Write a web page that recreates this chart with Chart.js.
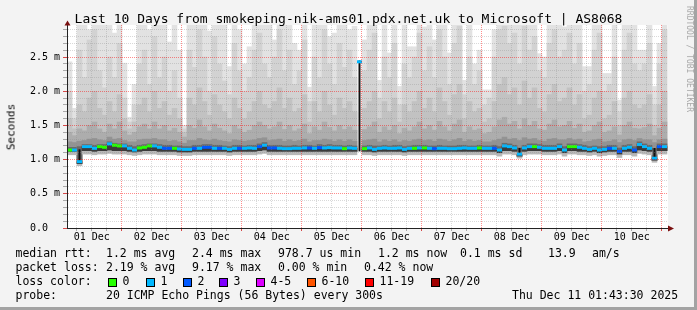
<!DOCTYPE html>
<html>
<head>
<meta charset="utf-8">
<script src="https://cdn.jsdelivr.net/npm/chart.js"></script>
<style>
  html, body { margin:0; padding:0; }
  body { width:697px; height:310px; position:relative; overflow:hidden; background:#f3f3f3; font-family:"DejaVu Sans Mono", monospace; }
  #c { position:absolute; left:0; top:0; }
  .t { position:absolute; white-space:pre; color:#000; font-size:11.5px; line-height:11.5px; }
  .box { position:absolute; width:7px; height:7px; border:1px solid #000; top:278px; }
</style>
</head>
<body>
<canvas id="c" width="697" height="310"></canvas>
<div style="position:absolute;left:694px;top:0;width:3px;height:310px;background:#a3a3a3"></div>
<div style="position:absolute;left:0;top:307px;width:697px;height:3px;background:#a3a3a3"></div>

<div class="t" style="left:0;width:697px;text-align:center;top:12px;font-size:13px;line-height:13px;">Last 10 Days from smokeping-nik-ams01.pdx.net.uk to Microsoft | AS8068</div>
<div class="t" style="left:11px;top:127px;font-size:11px;line-height:11px;transform:translate(-50%,-50%) rotate(-90deg);">Seconds</div>
<div class="t" style="left:688.5px;top:58.5px;font-size:8px;line-height:8px;color:#a9a9a9;transform:translate(-50%,-50%) rotate(90deg);">RRDTOOL / TOBI OETIKER</div>

<div class="t" style="left:15.5px;top:248px">median rtt:</div>
<div class="t" style="left:106px;top:248px">1.2 ms avg</div>
<div class="t" style="left:192px;top:248px">2.4 ms max</div>
<div class="t" style="left:278px;top:248px">978.7 us min</div>
<div class="t" style="left:378px;top:248px">1.2 ms now</div>
<div class="t" style="left:460px;top:248px">0.1 ms sd</div>
<div class="t" style="left:548px;top:248px">13.9</div>
<div class="t" style="left:592px;top:248px">am/s</div>

<div class="t" style="left:15.5px;top:262px">packet loss:</div>
<div class="t" style="left:106px;top:262px">2.19 % avg</div>
<div class="t" style="left:192px;top:262px">9.17 % max</div>
<div class="t" style="left:278px;top:262px">0.00 % min</div>
<div class="t" style="left:364px;top:262px">0.42 % now</div>

<div class="t" style="left:15.5px;top:276px">loss color:</div>
<div id="lossLegend"></div>

<div class="t" style="left:15.5px;top:290px">probe:</div>
<div class="t" style="left:106px;top:290px">20 ICMP Echo Pings (56 Bytes) every 300s</div>
<div class="t" style="left:512px;top:290px">Thu Dec 11 01:43:30 2025</div>

<script>
// ---------------- data (values in milliseconds) ----------------
const dayLabels = ['01 Dec','02 Dec','03 Dec','04 Dec','05 Dec','06 Dec','07 Dec','08 Dec','09 Dec','10 Dec'];
const yTickLabels = ['0.0','0.5 m','1.0 m','1.5 m','2.0 m','2.5 m'];
const lossLegendLabels = ['0','1','2','3','4-5','6-10','11-19','20/20'];
const lossLegendCounts = [0,1,2,3,4,6,11,20];

// median rtt per 2-hour column
const median = [
 1.14,1.14,0.97,1.19,1.19,1.165,1.19,1.18,1.23,1.21,
 1.20,1.20,1.165,1.14,1.17,1.18,1.20,1.20,1.18,1.165,
 1.165,1.165,1.155,1.15,1.15,1.165,1.165,1.18,1.18,1.165,
 1.165,1.165,1.15,1.165,1.165,1.165,1.17,1.165,1.19,1.21,
 1.17,1.17,1.165,1.16,1.16,1.165,1.165,1.17,1.17,1.165,
 1.175,1.17,1.175,1.17,1.17,1.16,1.17,1.165,2.43,1.16,
 1.17,1.15,1.165,1.17,1.165,1.165,1.17,1.15,1.165,1.165,
 1.17,1.17,1.165,1.16,1.165,1.165,1.16,1.16,1.165,1.17,
 1.165,1.165,1.17,1.165,1.165,1.165,1.14,1.20,1.19,1.17,
 1.08,1.17,1.19,1.19,1.18,1.165,1.165,1.165,1.19,1.14,
 1.19,1.19,1.18,1.165,1.15,1.165,1.14,1.15,1.165,1.165,
 1.12,1.165,1.18,1.14,1.22,1.19,1.165,1.02,1.19,1.19
];
// lost pings (of 20) per column
const loss = [
 0,1,1,1,1,1,0,0,1,0,
 0,1,1,1,0,0,0,1,1,2,
 2,0,1,1,1,2,1,2,2,1,
 2,1,1,1,2,1,1,1,2,1,
 2,2,1,1,1,1,1,1,2,1,
 2,1,1,1,1,0,1,1,1,0,
 1,1,1,1,1,1,1,1,1,0,
 1,0,1,2,1,1,1,1,1,1,
 1,1,0,1,1,2,1,1,1,1,
 1,1,1,0,1,1,1,1,1,1,
 0,0,1,1,1,1,1,1,2,1,
 2,1,1,2,1,1,1,1,2,1
];
// smoke layer tops (lightest to darkest)
const smokeTop1 = [
 2.43,1.75,3,3,2.9,3,3,3,3,2.85,
 3,2.41,1.62,2.1,3,3,2.9,3,3,3,
 2.72,3,2.6,1.5,3,3,3,3,2.88,3,
 3,3,2.36,3,2.9,2.4,2.65,3,3,3,
 3,2.75,3,3,3,2.7,2.6,3,2.06,3,
 3,3,2.8,2.85,3,3,2.9,2.95,null,2.75,
 3,3,2.16,3,2.56,3,2.07,3,2.65,2.65,
 3,2.94,3,2.75,3,3,2.56,3,3,2.16,
 3,2.4,2.6,2.02,2.02,2.9,3,3,3,3,
 3,3,3,3,2.55,2.5,3,3,3,2.94,
 3,3,3,2.36,2.36,3,3,2.26,2.26,3,
 1.87,3,3,3,2.6,2.6,3,2.07,2.7,3
];
const smokeTop2 = [
 2.0,1.6,2.6,2.2,2.75,2.9,2.3,2.05,2.5,2.2,
 2.7,1.9,1.55,1.8,2.4,2.6,2.1,2.8,2.2,2.5,
 2.0,2.3,1.9,1.45,2.6,2.35,2.9,2.5,2.0,2.8,
 2.4,2.15,1.95,2.7,2.3,2.0,2.2,2.6,2.85,2.4,
 2.2,2.5,2.9,2.3,2.6,2.1,2.3,2.75,1.85,2.5,
 2.2,2.9,2.4,2.1,2.7,2.35,2.6,2.2,null,2.3,
 2.6,2.85,1.9,2.5,2.2,2.7,1.8,2.4,2.2,2.5,
 2.85,2.3,2.65,2.2,2.9,2.5,2.1,2.7,2.95,1.95,
 2.5,2.1,2.3,1.8,1.9,2.5,2.9,2.95,2.7,2.85,
 2.4,2.95,2.6,2.8,2.3,2.2,2.7,2.9,2.5,2.6,
 2.85,2.4,2.7,2.0,2.1,2.6,2.85,2.0,2.1,2.5,
 1.7,2.6,2.85,2.4,2.3,2.4,2.7,1.8,2.4,2.9
];
const smokeTop3 = [
 1.6,1.45,1.8,1.7,1.9,2.0,1.75,1.65,1.85,1.7,
 1.95,1.6,1.45,1.55,1.8,1.9,1.7,2.0,1.75,1.85,
 1.65,1.75,1.6,1.4,1.9,1.8,2.05,1.85,1.65,1.95,
 1.8,1.7,1.6,1.9,1.75,1.6,1.7,1.85,2.0,1.8,
 1.75,1.85,2.05,1.75,1.9,1.7,1.75,1.95,1.55,1.85,
 1.7,2.0,1.8,1.65,1.9,1.75,1.85,1.7,null,1.75,
 1.85,2.0,1.6,1.85,1.7,1.9,1.55,1.8,1.7,1.85,
 2.0,1.75,1.9,1.7,2.05,1.85,1.65,1.95,2.1,1.6,
 1.85,1.7,1.75,1.55,1.6,1.85,2.1,2.2,1.95,2.05,
 1.8,2.15,1.9,2.05,1.75,1.7,1.95,2.1,1.85,1.9,
 2.05,1.8,1.95,1.6,1.65,1.9,2.0,1.6,1.65,1.85,
 1.5,1.9,2.0,1.8,1.75,1.8,1.95,1.5,1.8,2.0
];
const smokeTop4 = [
 1.40,1.35,1.45,1.42,1.50,1.55,1.45,1.40,1.52,1.45,
 1.55,1.42,1.36,1.40,1.48,1.52,1.45,1.55,1.45,1.50,
 1.42,1.46,1.40,1.33,1.50,1.46,1.58,1.48,1.42,1.52,
 1.46,1.42,1.38,1.50,1.45,1.40,1.43,1.50,1.55,1.50,
 1.45,1.48,1.55,1.44,1.50,1.42,1.45,1.52,1.38,1.48,
 1.43,1.55,1.47,1.42,1.50,1.44,1.48,1.43,null,1.44,
 1.48,1.55,1.40,1.48,1.43,1.50,1.38,1.46,1.42,1.48,
 1.55,1.45,1.50,1.43,1.56,1.48,1.42,1.52,1.58,1.40,
 1.48,1.43,1.45,1.38,1.40,1.48,1.58,1.62,1.52,1.56,
 1.45,1.60,1.50,1.56,1.45,1.43,1.52,1.58,1.48,1.50,
 1.56,1.46,1.52,1.40,1.42,1.50,1.55,1.40,1.42,1.48,
 1.36,1.50,1.55,1.46,1.45,1.47,1.52,1.35,1.46,1.55
];
const smokeTop5 = [
 1.26,1.25,1.27,1.28,1.30,1.31,1.29,1.28,1.33,1.30,
 1.31,1.28,1.26,1.26,1.29,1.30,1.30,1.31,1.29,1.29,
 1.27,1.28,1.26,1.24,1.28,1.28,1.31,1.29,1.28,1.30,
 1.28,1.27,1.26,1.29,1.28,1.27,1.28,1.29,1.31,1.32,
 1.28,1.29,1.30,1.27,1.29,1.27,1.28,1.30,1.26,1.28,
 1.28,1.30,1.29,1.27,1.29,1.27,1.29,1.27,null,1.28,
 1.29,1.30,1.26,1.29,1.27,1.29,1.26,1.28,1.27,1.29,
 1.30,1.28,1.29,1.27,1.30,1.29,1.27,1.29,1.31,1.27,
 1.29,1.27,1.28,1.26,1.26,1.28,1.30,1.33,1.30,1.31,
 1.28,1.32,1.30,1.31,1.28,1.27,1.30,1.31,1.29,1.29,
 1.31,1.29,1.30,1.26,1.27,1.29,1.30,1.26,1.27,1.29,
 1.25,1.29,1.30,1.28,1.31,1.29,1.29,1.25,1.29,1.30
];
const smokeTop6 = [
 1.18,1.18,1.19,1.22,1.22,1.21,1.22,1.22,1.26,1.24,
 1.23,1.23,1.21,1.19,1.21,1.22,1.23,1.23,1.22,1.21,
 1.21,1.20,1.20,1.19,1.19,1.21,1.21,1.22,1.22,1.21,
 1.21,1.20,1.19,1.21,1.21,1.20,1.21,1.21,1.23,1.25,
 1.21,1.21,1.21,1.20,1.20,1.21,1.20,1.21,1.21,1.20,
 1.22,1.21,1.22,1.21,1.21,1.20,1.21,1.20,null,1.20,
 1.21,1.20,1.20,1.21,1.20,1.21,1.21,1.19,1.20,1.21,
 1.21,1.21,1.20,1.20,1.21,1.20,1.20,1.20,1.21,1.21,
 1.20,1.20,1.21,1.20,1.20,1.21,1.19,1.24,1.23,1.21,
 1.17,1.21,1.23,1.23,1.22,1.21,1.21,1.21,1.23,1.19,
 1.23,1.23,1.22,1.21,1.19,1.20,1.19,1.19,1.21,1.21,
 1.17,1.21,1.22,1.19,1.26,1.23,1.21,1.16,1.23,1.23
];
// lower edge of the smoke (dark part, then light part)
const smokeLowDark = [
 1.12,1.12,0.94,1.13,1.13,1.12,1.13,1.13,1.14,1.13,
 1.13,1.13,1.12,1.11,1.12,1.13,1.13,1.13,1.12,1.12,
 1.12,1.12,1.11,1.11,1.11,1.12,1.12,1.12,1.12,1.12,
 1.12,1.12,1.11,1.12,1.12,1.12,1.12,1.12,1.13,1.14,
 1.12,1.12,1.12,1.12,1.12,1.12,1.12,1.12,1.12,1.12,
 1.12,1.12,1.12,1.12,1.12,1.12,1.12,1.12,null,1.12,
 1.12,1.11,1.12,1.12,1.12,1.12,1.12,1.11,1.12,1.12,
 1.12,1.12,1.12,1.12,1.12,1.12,1.12,1.12,1.12,1.12,
 1.12,1.12,1.12,1.12,1.12,1.12,1.10,1.13,1.13,1.12,
 1.05,1.12,1.13,1.13,1.13,1.12,1.12,1.12,1.13,1.10,
 1.13,1.13,1.12,1.12,1.11,1.12,1.10,1.11,1.12,1.12,
 1.08,1.12,1.12,1.10,1.14,1.13,1.12,0.99,1.13,1.13
];
const smokeLowLight = [
 1.07,1.07,0.91,1.08,1.08,1.07,1.08,1.08,1.09,1.08,
 1.08,1.08,1.07,1.06,1.07,1.08,1.08,1.08,1.07,1.07,
 1.07,1.07,1.06,1.06,1.06,1.07,1.07,1.07,1.07,1.07,
 1.07,1.07,1.06,1.07,1.07,1.07,1.07,1.07,1.08,1.09,
 1.07,1.07,1.07,1.07,1.07,1.07,1.07,1.07,1.07,1.07,
 1.07,1.07,1.07,1.07,1.07,1.07,1.07,1.07,null,1.07,
 1.07,1.06,1.07,1.07,1.07,1.07,1.07,1.06,1.07,1.07,
 1.07,1.07,1.07,1.07,1.07,1.07,1.07,1.07,1.07,1.07,
 1.07,1.07,1.07,1.07,1.07,1.07,1.05,1.08,1.08,1.07,
 1.02,1.07,1.08,1.08,1.08,1.07,1.07,1.07,1.08,1.05,
 1.08,1.08,1.07,1.07,1.06,1.07,1.05,1.06,1.07,1.07,
 1.03,1.07,1.07,1.05,1.09,1.08,1.07,0.96,1.08,1.08
];
// darkest core where all pings spread (spike / dips)
const coreLow  = { 2: 0.95, 58: 1.12, 90: 1.07, 117: 1.00 };
const coreHigh = { 2: 1.15, 58: 2.45, 90: 1.17, 117: 1.17 };

// ---------------- helpers ----------------
const firstHour = 3.12;   // centre of first column, hours after 01 Dec 00:00
const stepHours = 2;
const xMin = 2.12, xMax = 242.52;
const colX = i => firstHour + stepHours * i;

function lossColor(n) {
  if (n === 0) return '#26ff00';
  if (n === 1) return '#00b8ff';
  if (n === 2) return '#0059ff';
  if (n === 3) return '#7e00ff';
  if (n <= 5) return '#dd00ff';
  if (n <= 10) return '#ff5500';
  if (n <= 19) return '#ff0000';
  return '#a10000';
}
function band(lo, hi) {
  const out = [];
  for (let i = 0; i < median.length; i++) {
    const a = lo[i], b = hi[i];
    if (a == null || b == null) continue;
    out.push({ x: colX(i), y: [a, b] });
  }
  return out;
}
const barBase = { type: 'bar', grouped: false, barThickness: 5, barPercentage: 1, categoryPercentage: 1, borderWidth: 0, inflateAmount: 0.3 };
function layer(lo, hi, color, order, extra) {
  return Object.assign({}, barBase, { data: band(lo, hi), backgroundColor: color, order: order }, extra || {});
}

const halfLine = 0.022; // half thickness of median line in ms (about 1.5px)
const medLo = median.map(v => v - halfLine);
const medHi = median.map(v => v + halfLine);

// legend boxes
(function () {
  const xs = [108, 146, 183, 219, 256, 307, 365, 431];
  const host = document.getElementById('lossLegend');
  lossLegendLabels.forEach((lab, k) => {
    const b = document.createElement('div');
    b.className = 'box';
    b.style.left = xs[k] + 'px';
    b.style.background = lossColor(lossLegendCounts[k]);
    host.appendChild(b);
    const t = document.createElement('div');
    t.className = 't';
    t.style.left = (xs[k] + 14.5) + 'px';
    t.style.top = '276px';
    t.textContent = lab;
    host.appendChild(t);
  });
})();

const MAJOR = 'rgba(255,0,0,0.45)';
const MINOR = 'rgba(140,140,140,0.33)';

const framePlugin = {
  id: 'framePlugin',
  beforeDraw(chart) {
    const { ctx, chartArea: a } = chart;
    ctx.save();
    ctx.fillStyle = '#ffffff';
    ctx.fillRect(a.left, a.top, a.right - a.left, a.bottom - a.top);
    ctx.restore();
  },
  afterDraw(chart) {
    const { ctx, chartArea: a } = chart;
    ctx.save();
    ctx.fillStyle = '#7a1010';
    ctx.beginPath();
    ctx.moveTo(a.left - 2.5, a.top + 0.5);
    ctx.lineTo(a.left + 2.5 + 1, a.top + 0.5);
    ctx.lineTo(a.left + 0.5, a.top - 4.5);
    ctx.closePath();
    ctx.fill();
    ctx.beginPath();
    ctx.moveTo(a.right, a.bottom - 2.5);
    ctx.lineTo(a.right, a.bottom + 3.5);
    ctx.lineTo(a.right + 6, a.bottom + 0.5);
    ctx.closePath();
    ctx.fill();
    ctx.restore();
  }
};

Chart.defaults.font.family = '"DejaVu Sans Mono", monospace';
Chart.defaults.font.size = 10;
Chart.defaults.color = '#000';

new Chart(document.getElementById('c'), {
  type: 'bar',
  data: {
    datasets: [
      layer(medLo, medHi, median.map((v, i) => lossColor(loss[i])), 1, { inflateAmount: 0 }),
      layer(coreLow, coreHigh, '#111111', 2, { barThickness: 2, inflateAmount: 0 }),
      layer(smokeLowDark, median, '#3c3c3c', 3),
      layer(smokeLowLight, smokeLowDark, '#b8b8b8', 4),
      layer(smokeLowDark, smokeTop6, '#6a6a6a', 5),
      layer(smokeLowDark, smokeTop5, '#939393', 6),
      layer(smokeLowDark, smokeTop4, '#adadad', 7),
      layer(smokeLowDark, smokeTop3, '#c2c2c2', 8),
      layer(smokeLowDark, smokeTop2, '#d2d2d2', 9),
      layer(smokeLowDark, smokeTop1, '#e2e2e2', 10)
    ]
  },
  options: {
    responsive: false,
    animation: false,
    devicePixelRatio: 1,
    layout: { padding: { top: 25, right: 29, left: 0, bottom: 0 } },
    plugins: { legend: { display: false }, tooltip: { enabled: false }, title: { display: false } },
    scales: {
      x: {
        type: 'linear',
        min: xMin, max: xMax,
        offset: false,
        afterFit(s) { s.height = 82; },
        afterBuildTicks(s) {
          const t = [];
          for (let h = 6; h <= 240; h += 6) t.push({ value: h });
          s.ticks = t;
        },
        ticks: {
          autoSkip: false, maxRotation: 0, padding: 0, z: 2,
          font: { size: 10 },
          callback: (v) => {
            const h = Math.round(v);
            return h % 24 === 12 ? (dayLabels[(h - 12) / 24] || '') : '';
          }
        },
        grid: {
          z: 1,
          offset: false,
          lineWidth: 1,
          tickLength: 3,
          color: (c) => (c.tick && Math.round(c.tick.value) % 24 === 0) ? MAJOR : MINOR,
          tickColor: (c) => (c.tick && Math.round(c.tick.value) % 24 === 0) ? 'rgba(200,0,0,0.7)' : 'rgba(120,120,120,0.6)'
        },
        border: { display: true, color: '#222', width: 1, dash: [1, 1], z: 2 }
      },
      y: {
        type: 'linear',
        min: 0, max: 2.968,
        afterFit(s) { s.width = 67; },
        afterBuildTicks(s) {
          const t = [];
          for (let k = 0; k <= 29; k++) t.push({ value: k / 10 });
          s.ticks = t;
        },
        ticks: {
          autoSkip: false, padding: 3, z: 2,
          font: { size: 10 },
          callback: (v) => {
            const k = Math.round(v * 10);
            return k % 5 === 0 ? yTickLabels[k / 5].padEnd(5, ' ') : '';
          }
        },
        grid: {
          z: 1,
          lineWidth: 1,
          tickLength: 4,
          color: (c) => (c.tick && Math.round(c.tick.value * 10) % 5 === 0) ? MAJOR : MINOR,
          tickColor: (c) => (c.tick && Math.round(c.tick.value * 10) % 5 === 0) ? 'rgba(200,0,0,0.7)' : 'rgba(120,120,120,0.6)'
        },
        border: { display: true, color: '#222', width: 1, dash: [1, 1], z: 2 }
      }
    }
  },
  plugins: [framePlugin]
});
</script>
</body>
</html>
